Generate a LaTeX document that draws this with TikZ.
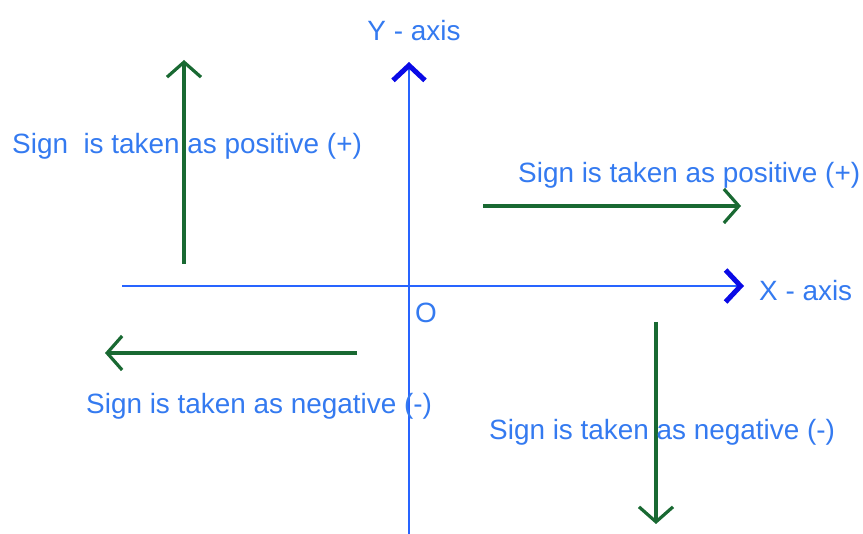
\documentclass[tikz,border=0pt]{standalone}
\usepackage{fontspec}
\setmainfont{Liberation Sans}
\usetikzlibrary{arrows.meta}
\definecolor{txtblue}{RGB}{52,122,240}
\definecolor{axisblue}{RGB}{40,100,255}
\definecolor{tipblue}{RGB}{10,10,230}
\definecolor{arrgreen}{RGB}{25,105,50}
\tikzset{
  lbl/.style={text=txtblue, inner sep=0pt, font=\fontsize{27.9}{32}\selectfont},
  axisline/.style={draw=axisblue, line width=1.3pt},
  axistip/.style={-{Straight Barb[length=15pt,width=32pt,line width=5pt,color=tipblue]}},
  greenarrow/.style={draw=arrgreen, line width=3.2pt, -{Straight Barb[length=15pt,width=34pt,line width=3.2pt]}}
}
\begin{document}
\begin{tikzpicture}[x=1pt,y=-1pt]
\useasboundingbox (0,0) rectangle (863,534);
% axes
\coordinate (ybot) at (409,534);
\coordinate (ytop) at (409,62);
\coordinate (xleft) at (122,286);
\coordinate (xright) at (744,286);
\draw[axisline, axistip] (ybot) -- (ytop);
\draw[axisline, axistip] (xleft) -- (xright);
% axis labels
\node[lbl] (ylab) at (414,31) {Y - axis};
\node[lbl, anchor=west] (xlab) at (759,291) {X - axis};
\node[lbl] (orig) at (426,313) {O};
% green arrows
\coordinate (ua1) at (184,264);
\coordinate (ua2) at (184,60);
\draw[greenarrow] (ua1) -- (ua2);
\coordinate (ra1) at (483,206);
\coordinate (ra2) at (741,206);
\draw[greenarrow] (ra1) -- (ra2);
\coordinate (la1) at (357,353);
\coordinate (la2) at (105,353);
\draw[greenarrow] (la1) -- (la2);
\coordinate (da1) at (656,322);
\coordinate (da2) at (656,524);
\draw[greenarrow] (da1) -- (da2);
% texts
\node[lbl, anchor=west] (tposl) at (12,146) {Sign\ \ is taken as positive (+)};
\node[lbl, anchor=west] (tposr) at (518,175) {Sign is taken as positive (+)};
\node[lbl, anchor=west] (tnegl) at (86,406) {Sign is taken as negative (-)};
\node[lbl, anchor=west] (tnegr) at (489,432) {Sign is taken as negative (-)};
\end{tikzpicture}
\end{document}
